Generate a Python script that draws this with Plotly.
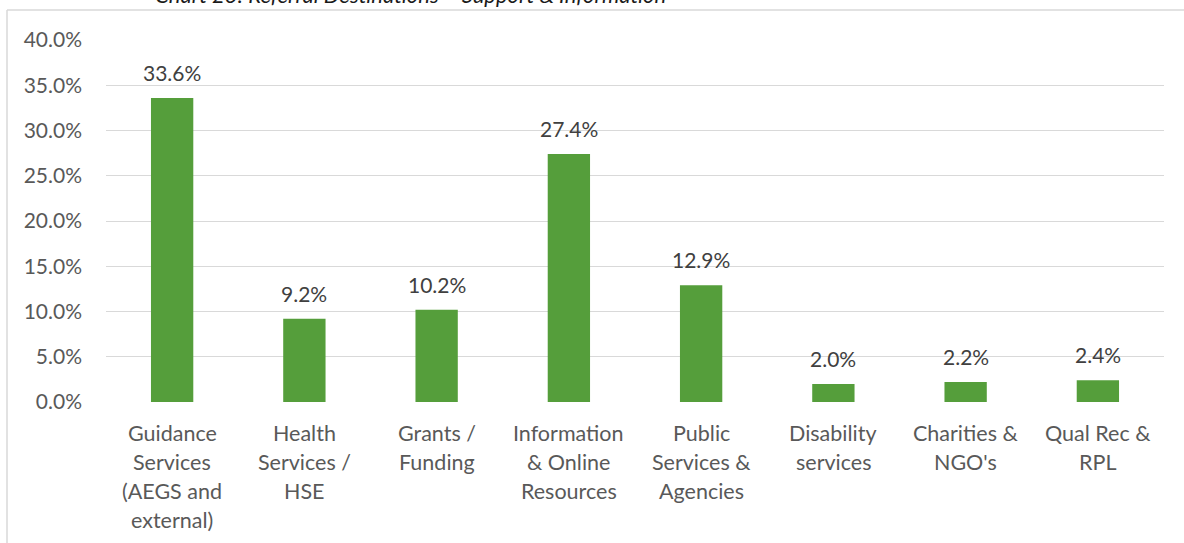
import plotly.graph_objects as go

# Referral destinations – support & information (share of referrals)
categories = [
    "Guidance<br>Services<br>(AEGS and<br>external)",
    "Health<br>Services /<br>HSE",
    "Grants /<br>Funding",
    "Information<br>& Online<br>Resources",
    "Public<br>Services &<br>Agencies",
    "Disability<br>services",
    "Charities &<br>NGO's",
    "Qual Rec &<br>RPL",
]
shares = [33.6, 9.2, 10.2, 27.4, 12.9, 2.0, 2.2, 2.4]
y_ticks = [0, 5, 10, 15, 20, 25, 30, 35, 40]
title_text = "Chart 23: Referral Destinations – Support & Information"

FONT = "Lato, 'Open Sans', sans-serif"
W, H = 1184, 543
L, R, T, B = 106, 20, 40, 141
plot_w = W - L - R
plot_h = H - T - B

xs = list(range(len(categories)))

fig = go.Figure(
    go.Bar(
        x=xs,
        y=shares,
        marker=dict(color="#559E3B", line=dict(width=0)),
        width=0.32,
        hoverinfo="skip",
    )
)

annotations = []
# value labels above each bar
for x, v in zip(xs, shares):
    annotations.append(dict(
        x=x, y=v, xref="x", yref="y", text=f"{v:.1f}%", showarrow=False,
        yanchor="bottom", yshift=11,
        font=dict(family=FONT, size=21, color="#404040"),
    ))

# multi-line category labels under the axis
line_gap = 29
for x, lab in zip(xs, categories):
    for i, line in enumerate(lab.split("<br>")):
        annotations.append(dict(
            x=x, y=0, xref="x", yref="y", text=line, showarrow=False,
            yanchor="middle", yshift=-31 - i * line_gap,
            font=dict(family=FONT, size=21.5, color="#595959"),
        ))

# chart title, sitting just above the frame
annotations.append(dict(
    x=(410 - L) / plot_w, y=(H - B - 10) / plot_h, xref="paper", yref="paper",
    text=f"<i>{title_text}</i>", showarrow=False, xanchor="center", yanchor="bottom",
    font=dict(family=FONT, size=22, color="#1a1a1a"),
))

# chart-area frame: left and top edges
fx0 = (7 - L) / plot_w
fy_top = (H - B - 10) / plot_h
fy_bot = (H - B - H - 20) / plot_h
shapes = [
    dict(type="line", xref="paper", yref="paper", x0=fx0, x1=(W + 20 - L) / plot_w,
         y0=fy_top, y1=fy_top, line=dict(color="#D9D9D9", width=1.5)),
    dict(type="line", xref="paper", yref="paper", x0=fx0, x1=fx0,
         y0=fy_top, y1=fy_bot, line=dict(color="#D9D9D9", width=1.5)),
]

fig.update_layout(
    width=W, height=H,
    margin=dict(l=L, r=R, t=T, b=B, pad=0),
    paper_bgcolor="white", plot_bgcolor="white",
    showlegend=False,
    annotations=annotations,
    shapes=shapes,
    xaxis=dict(
        range=[-0.5, len(categories) - 0.5], showticklabels=False, showgrid=False,
        zeroline=False, showline=False, ticks="",
    ),
    yaxis=dict(
        range=[0, 40], tickvals=y_ticks, ticktext=[f"{t:.1f}%" for t in y_ticks],
        showgrid=True, gridcolor="#D9D9D9", gridwidth=1, zeroline=False,
        showline=False, ticks="", ticklabelstandoff=23,
        tickfont=dict(family=FONT, size=21, color="#595959"),
    ),
)

fig.write_html("out.html")
